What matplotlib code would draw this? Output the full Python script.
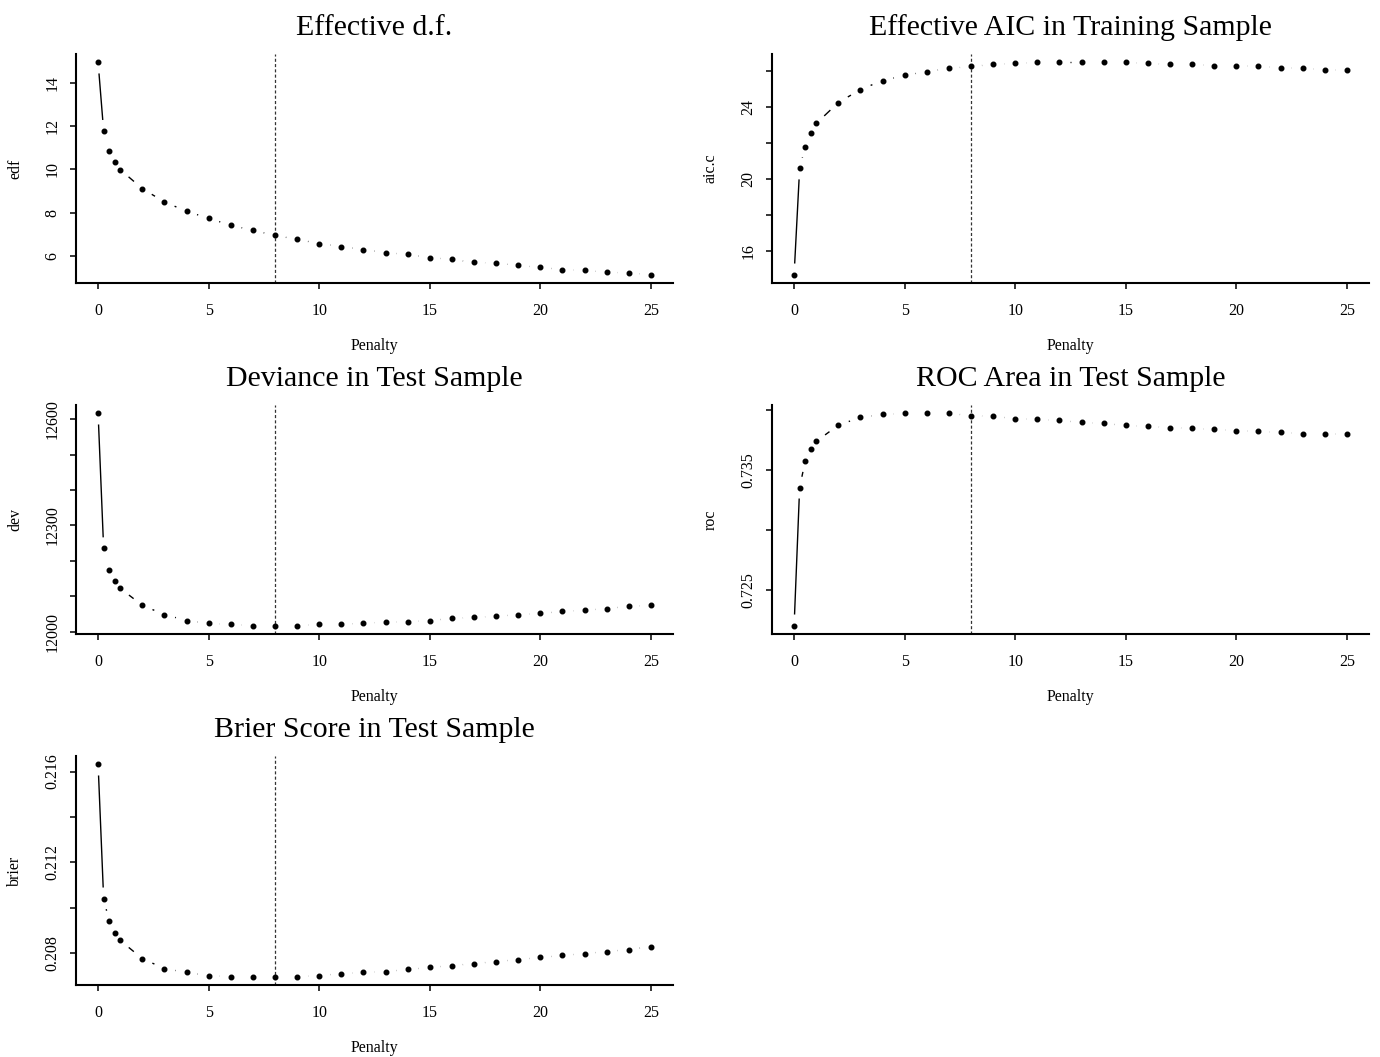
import numpy as np
import matplotlib
matplotlib.use("Agg")
import matplotlib.pyplot as plt

plt.rcParams['font.family'] = ['Liberation Serif', 'DejaVu Serif']
plt.rcParams['lines.scale_dashes'] = False

# penalty grid
penalty = [0, 0.25, 0.5, 0.75, 1, 2, 3, 4, 5, 6, 7, 8, 9, 10, 11, 12, 13,
           14, 15, 16, 17, 18, 19, 20, 21, 22, 23, 24, 25]
best_penalty = 8

edf = [14.97, 11.79, 10.87, 10.36, 9.99, 9.11, 8.49, 8.06, 7.73, 7.41, 7.17,
       6.94, 6.75, 6.56, 6.42, 6.28, 6.14, 6.05, 5.91, 5.82, 5.68, 5.65, 5.54,
       5.45, 5.35, 5.31, 5.23, 5.19, 5.12]

aic_c = [14.71, 20.59, 21.80, 22.53, 23.08, 24.24, 24.96, 25.46, 25.74, 25.96,
         26.13, 26.24, 26.35, 26.41, 26.46, 26.46, 26.46, 26.46, 26.46, 26.41,
         26.35, 26.35, 26.29, 26.29, 26.24, 26.18, 26.13, 26.07, 26.02]

dev = [12616, 12235, 12175, 12144, 12122, 12074, 12048, 12031, 12023, 12020,
       12017, 12017, 12017, 12020, 12020, 12024, 12026, 12028, 12031, 12037,
       12040, 12043, 12048, 12051, 12057, 12060, 12065, 12071, 12074]

roc = [0.72203, 0.73353, 0.73573, 0.73670, 0.73737, 0.73873, 0.73937, 0.73962,
       0.73970, 0.73970, 0.73970, 0.73953, 0.73945, 0.73928, 0.73920, 0.73912,
       0.73895, 0.73887, 0.73870, 0.73862, 0.73853, 0.73845, 0.73837, 0.73828,
       0.73820, 0.73812, 0.73803, 0.73803, 0.73795]

brier = [0.21631, 0.21040, 0.20939, 0.20890, 0.20855, 0.20775, 0.20731, 0.20714,
         0.20700, 0.20696, 0.20696, 0.20696, 0.20696, 0.20700, 0.20709, 0.20714,
         0.20718, 0.20727, 0.20736, 0.20744, 0.20753, 0.20762, 0.20771, 0.20780,
         0.20789, 0.20797, 0.20806, 0.20815, 0.20828]

x_ticks = [0, 5, 10, 15, 20, 25]

# (title, ylabel, values, y ticks, y tick labels)
panels = [
    ("Effective d.f.", "edf", edf,
     [6, 8, 10, 12, 14], ["6", "8", "10", "12", "14"]),
    ("Effective AIC in Training Sample", "aic.c", aic_c,
     [16, 18, 20, 22, 24, 26], ["16", "", "20", "", "24", ""]),
    ("Deviance in Test Sample", "dev", dev,
     [12000, 12100, 12200, 12300, 12400, 12500, 12600],
     ["12000", "", "", "12300", "", "", "12600"]),
    ("ROC Area in Test Sample", "roc", roc,
     [0.725, 0.730, 0.735, 0.740], ["0.725", "", "0.735", ""]),
    ("Brier Score in Test Sample", "brier", brier,
     [0.208, 0.210, 0.212, 0.214, 0.216], ["0.208", "", "0.212", "", "0.216"]),
]

W, H = 1380, 1057
fig = plt.figure(figsize=(W / 100, H / 100), dpi=100)

lefts = [76, 772]
tops = [54, 405, 756]
aw, ah = 597, 229
GAP = 11  # pixel gap around points, like R type="b"


def padded(v, f=0.04):
    lo, hi = min(v), max(v)
    r = hi - lo
    return lo - f * r, hi + f * r


def draw_b(ax, x, y):
    ax.plot(x, y, 'o', ms=3.3, color='black', mec='black', ls='none')
    pts = ax.transData.transform(np.column_stack([x, y]))
    inv = ax.transData.inverted()
    for p1, p2 in zip(pts[:-1], pts[1:]):
        d = np.hypot(*(p2 - p1))
        if d <= 2 * GAP:
            continue
        u = (p2 - p1) / d
        seg = inv.transform(np.array([p1 + u * GAP, p2 - u * GAP]))
        ax.plot(seg[:, 0], seg[:, 1], color='black', lw=1.0,
                solid_capstyle='butt')


for i, (title, ylab, vals, yt, ytl) in enumerate(panels):
    row, col = divmod(i, 2)
    l = lefts[col] / W
    b = 1 - (tops[row] + ah) / H
    ax = fig.add_axes([l, b, aw / W, ah / H])
    ax.set_xlim(padded(penalty))
    ax.set_ylim(padded(vals))
    for s in ['top', 'right']:
        ax.spines[s].set_visible(False)
    for s in ['left', 'bottom']:
        ax.spines[s].set_linewidth(1.5)

    ax.axvline(best_penalty, color='#333333', lw=0.9, dashes=(2.2, 1.6))
    draw_b(ax, penalty, vals)

    ax.set_xticks(x_ticks)
    ax.set_xticklabels([str(t) for t in x_ticks])
    ax.set_yticks(yt)
    ax.set_yticklabels(ytl)
    ax.tick_params(axis='both', direction='out', length=4.3, width=1.1,
                   labelsize=11.5)
    ax.tick_params(axis='x', pad=10)
    ax.tick_params(axis='y', pad=7)
    for lab in ax.get_yticklabels():
        lab.set_rotation(90)
        lab.set_va('center')
        lab.set_ha('right')

    ax.set_title(title, fontsize=21.5, pad=13.5)
    ax.set_xlabel("Penalty", fontsize=11.5, labelpad=13.5)
    ax.set_ylabel(ylab, fontsize=11.5)
    ax.yaxis.set_label_coords(-53 / aw, 0.5)

fig.savefig("out.png", dpi=100)
